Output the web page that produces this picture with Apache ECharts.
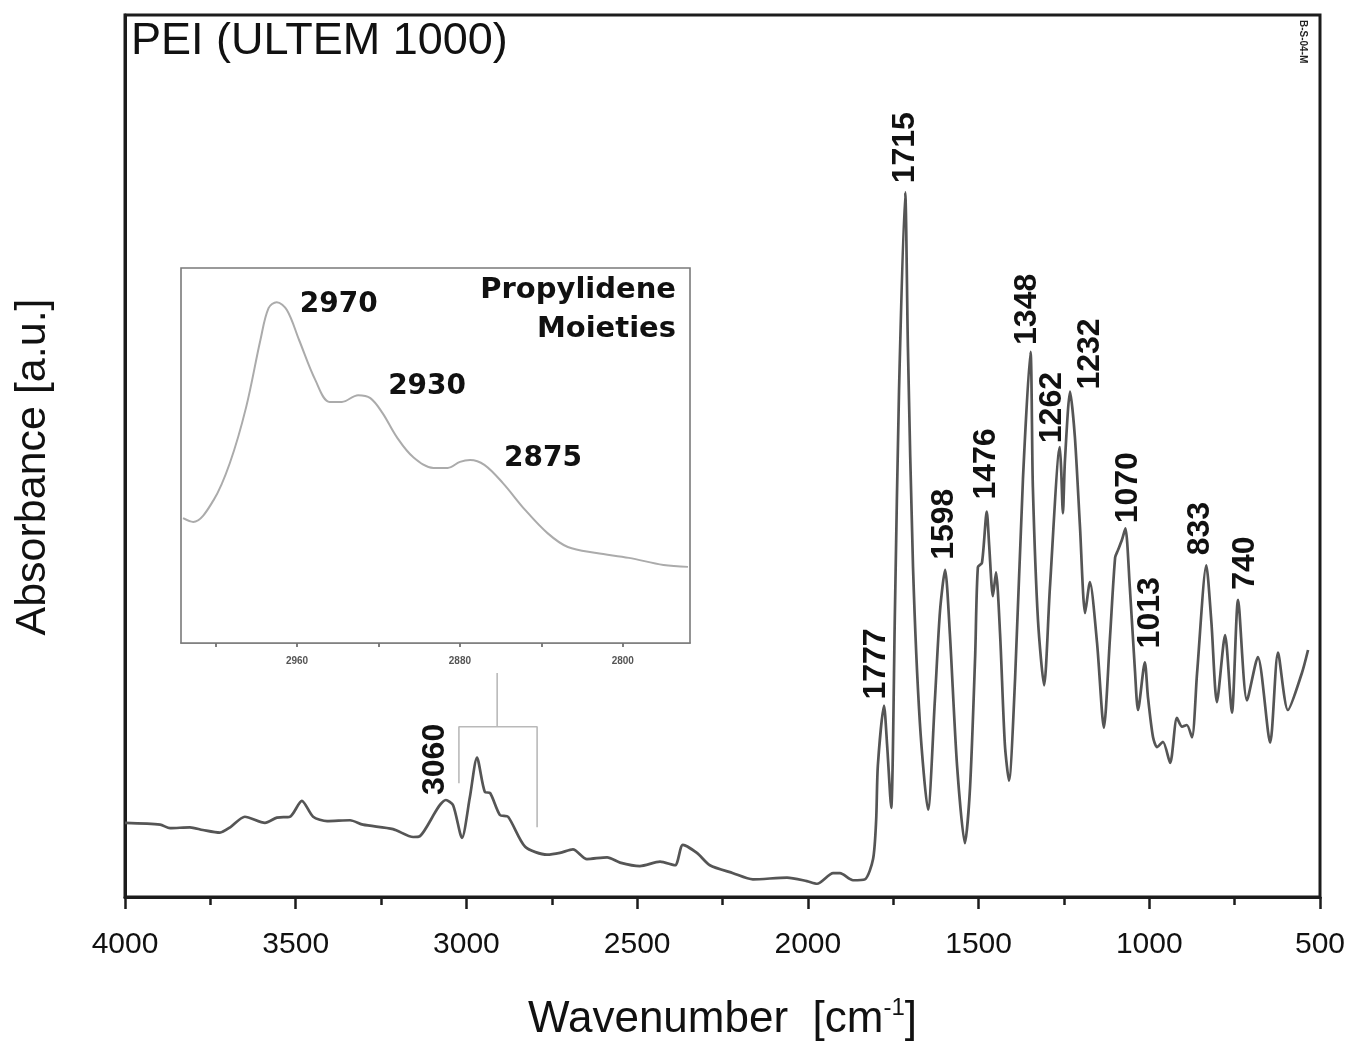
<!DOCTYPE html>
<html>
<head>
<meta charset="utf-8">
<script src="https://cdn.jsdelivr.net/npm/echarts@6/dist/echarts.min.js"></script>
<style>
  html, body { margin: 0; padding: 0; background: #fff; }
  #chart { width: 1356px; height: 1046px; }
</style>
</head>
<body>
<div id="chart"></div>
<script>
// FTIR absorbance spectrum of PEI (ULTEM 1000), 4000-500 cm-1
const wavenumber = [
  4000, 3897, 3868, 3810, 3772, 3722, 3692, 3649, 3590, 3555, 3517, 3482, 3449, 3408, 3341, 3303,
  3215, 3156, 3136, 3060, 3039, 3013, 2990, 2969, 2946, 2931, 2902, 2878, 2828, 2764, 2726, 2688,
  2647, 2588, 2550, 2492, 2433, 2389, 2366, 2325, 2287, 2219, 2161, 2061, 2003, 1973, 1926, 1906,
  1868, 1833, 1809, 1800, 1795, 1777, 1768, 1756, 1745, 1733, 1715, 1707, 1692, 1672, 1648, 1628,
  1613, 1598, 1584, 1563, 1540, 1525, 1510, 1502, 1490, 1476, 1469, 1458, 1449, 1437, 1423, 1411,
  1393, 1370, 1348, 1341, 1326, 1308, 1291, 1262, 1258, 1253, 1247, 1232, 1218, 1203, 1188, 1174,
  1153, 1133, 1115, 1100, 1092, 1080, 1070, 1057, 1042, 1033, 1013, 1004, 989, 977, 960, 939,
  919, 904, 890, 875, 860, 833, 818, 802, 778, 758, 740, 714, 682, 646, 623, 594, 553, 535
];
const absorbance = [
  0.084, 0.082, 0.078, 0.079, 0.076, 0.073, 0.079, 0.091, 0.084, 0.090, 0.091, 0.109, 0.091, 0.086, 0.087, 0.082,
  0.077, 0.068, 0.069, 0.110, 0.104, 0.067, 0.113, 0.158, 0.119, 0.118, 0.093, 0.091, 0.057, 0.048, 0.050, 0.054,
  0.043, 0.045, 0.039, 0.035, 0.040, 0.036, 0.059, 0.050, 0.036, 0.027, 0.020, 0.022, 0.018, 0.015, 0.027, 0.027,
  0.019, 0.020, 0.043, 0.087, 0.149, 0.217, 0.173, 0.101, 0.324, 0.574, 0.799, 0.624, 0.374, 0.198, 0.099, 0.223,
  0.324, 0.371, 0.298, 0.149, 0.061, 0.124, 0.273, 0.374, 0.379, 0.437, 0.399, 0.341, 0.368, 0.298, 0.173, 0.132,
  0.248, 0.474, 0.618, 0.465, 0.314, 0.240, 0.351, 0.510, 0.484, 0.435, 0.495, 0.573, 0.522, 0.420, 0.322, 0.357,
  0.288, 0.192, 0.295, 0.385, 0.393, 0.405, 0.418, 0.351, 0.257, 0.212, 0.266, 0.227, 0.181, 0.170, 0.176, 0.152,
  0.203, 0.193, 0.195, 0.181, 0.254, 0.376, 0.311, 0.221, 0.297, 0.209, 0.337, 0.223, 0.272, 0.175, 0.277, 0.212, 0.254, 0.280
];

// C-H stretching region, shown magnified in the inset
const insetWavenumber = [
  3016, 3011, 3001, 2993, 2985, 2978, 2974, 2970, 2965, 2959, 2951, 2944, 2938, 2930, 2924, 2918,
  2911, 2903, 2893, 2886, 2880, 2875, 2868, 2859, 2848, 2837, 2827, 2813, 2797, 2780, 2768
];
const insetAbsorbance = [
  0.333, 0.323, 0.381, 0.480, 0.629, 0.808, 0.893, 0.909, 0.888, 0.808, 0.701, 0.643, 0.643, 0.661, 0.653, 0.613,
  0.549, 0.496, 0.467, 0.467, 0.483, 0.488, 0.475, 0.427, 0.355, 0.293, 0.256, 0.240, 0.227, 0.208, 0.203
];

// assigned bands
const peakWavenumbers = [3060, 1777, 1715, 1598, 1476, 1348, 1262, 1232, 1070, 1013, 833, 740];
const insetPeakWavenumbers = [2970, 2930, 2875];

// tick labels
const mainTicks = [4000, 3500, 3000, 2500, 2000, 1500, 1000, 500];
const insetTickLabels = [2960, 2880, 2800];
const insetTicks = [3000, 2960, 2920, 2880, 2840, 2800];

// label placement (pixel offsets from each band maximum)
const peakLabelShift = {
  3060: [-11, 5], 1777: [-8, 6], 1715: [0, 9], 1598: [-1, 10], 1476: [-1, 12], 1348: [-3, 7],
  1262: [-8, 4], 1232: [20, 2], 1070: [3, 5], 1013: [5, 14], 833: [-6, 10], 740: [7, 10]
};
const insetLabelShift = { 2970: [23, 3], 2930: [30, -8], 2875: [34, -1] };

const zip = (xs, ys) => xs.map((x, i) => [x, ys[i]]);
const valueAt = (xs, ys, w) => ys[xs.indexOf(w)];

const FONT = '"Liberation Sans", Arial, sans-serif';
const AXIS_COLOR = '#1c1c1c';
const TEXT_COLOR = '#111111';

const peakData = peakWavenumbers.map(w => ({
  value: [w, valueAt(wavenumber, absorbance, w)],
  label: {
    show: true,
    formatter: String(w),
    position: [peakLabelShift[w][0], -peakLabelShift[w][1]],
    rotate: 90,
    align: 'left',
    verticalAlign: 'middle',
    fontSize: 32,
    fontWeight: 'bold',
    fontFamily: FONT,
    color: TEXT_COLOR
  }
}));

const insetPeakData = insetPeakWavenumbers.map(w => ({
  value: [w, valueAt(insetWavenumber, insetAbsorbance, w)],
  label: {
    show: true,
    formatter: String(w),
    position: insetLabelShift[w],
    align: 'left',
    verticalAlign: 'middle',
    fontSize: 28,
    fontWeight: 'bold',
    fontFamily: '"DejaVu Sans", sans-serif',
    color: TEXT_COLOR
  }
}));

const chart = echarts.init(document.getElementById('chart'), null, { renderer: 'canvas' });

chart.setOption({
  backgroundColor: '#ffffff',
  animation: false,
  grid: [
    {
      left: 125, right: 36, top: 15, bottom: 149,
      show: true, borderColor: AXIS_COLOR, borderWidth: 3, backgroundColor: 'transparent',
      outerBoundsMode: 'none'
    },
    {
      left: 181, top: 268, width: 509, height: 375,
      show: true, borderColor: '#7a7a7a', borderWidth: 1.6, backgroundColor: '#ffffff',
      outerBoundsMode: 'none', z: 5
    }
  ],
  xAxis: [
    {
      type: 'value', gridIndex: 0, min: 500, max: 4000, interval: 500, inverse: true,
      name: '{t|Wavenumber  [cm}{s|-1}{t|]}',
      nameLocation: 'middle', nameGap: 99,
      nameTextStyle: {
        rich: {
          t: { fontSize: 44, fontFamily: FONT, color: TEXT_COLOR },
          s: { fontSize: 24, fontFamily: FONT, color: TEXT_COLOR, padding: [0, 0, 24, 0] }
        }
      },
      axisLine: { show: true, onZero: false, lineStyle: { color: AXIS_COLOR, width: 3 } },
      axisTick: { show: true, inside: false, length: 12, lineStyle: { color: AXIS_COLOR, width: 2.5 } },
      minorTick: { show: true, splitNumber: 2, length: 8, lineStyle: { color: AXIS_COLOR, width: 2.5 } },
      axisLabel: {
        margin: 33, fontSize: 30, fontFamily: FONT, color: TEXT_COLOR,
        customValues: mainTicks, formatter: v => String(v)
      },
      splitLine: { show: false }
    },
    {
      type: 'value', gridIndex: 1, min: 2767, max: 3017, inverse: true,
      axisLine: { show: true, onZero: false, lineStyle: { color: '#7a7a7a', width: 1.6 } },
      axisTick: { show: true, inside: false, length: 4, customValues: insetTicks, lineStyle: { color: '#555', width: 1.5 } },
      axisLabel: {
        margin: 13, fontSize: 10, fontWeight: 'bold', fontFamily: FONT, color: '#555',
        customValues: insetTickLabels, formatter: v => String(v)
      },
      splitLine: { show: false }
    }
  ],
  yAxis: [
    {
      type: 'value', gridIndex: 0, min: 0, max: 1,
      name: 'Absorbance [a.u.]',
      nameLocation: 'middle', nameGap: 70, nameRotate: 90,
      nameTextStyle: { fontSize: 43, fontFamily: FONT, color: TEXT_COLOR, padding: [0, 22, 0, 0] },
      axisLine: { show: true, lineStyle: { color: AXIS_COLOR, width: 3 } },
      axisTick: { show: false },
      axisLabel: { show: false },
      splitLine: { show: false }
    },
    {
      type: 'value', gridIndex: 1, min: 0, max: 1,
      axisLine: { show: false }, axisTick: { show: false }, axisLabel: { show: false },
      splitLine: { show: false }
    }
  ],
  series: [
    {
      name: 'PEI',
      type: 'line', xAxisIndex: 0, yAxisIndex: 0,
      data: zip(wavenumber, absorbance),
      showSymbol: false, smooth: 0.25,
      lineStyle: { color: '#555555', width: 2.7 },
      z: 3
    },
    {
      name: 'band labels',
      type: 'scatter', xAxisIndex: 0, yAxisIndex: 0,
      symbolSize: 0, itemStyle: { opacity: 1 }, data: peakData, z: 4, silent: true
    },
    {
      // zoom marker: region 3020-2795 cm-1 that the inset enlarges
      name: 'zoom bracket',
      type: 'line', xAxisIndex: 0, yAxisIndex: 0,
      data: [[3022, 0.129], [3022, 0.193], [2793, 0.193], [2793, 0.079]],
      showSymbol: false, lineStyle: { color: '#b9b9b9', width: 1.6 }, z: 2, silent: true
    },
    {
      name: 'zoom connector',
      type: 'line', xAxisIndex: 0, yAxisIndex: 0,
      data: [[2910, 0.254], [2910, 0.193]],
      showSymbol: false, lineStyle: { color: '#b9b9b9', width: 1.6 }, z: 2, silent: true
    },
    {
      name: 'PEI C-H',
      type: 'line', xAxisIndex: 1, yAxisIndex: 1,
      data: zip(insetWavenumber, insetAbsorbance),
      showSymbol: false, smooth: 0.35,
      lineStyle: { color: '#ababab', width: 2 },
      z: 6
    },
    {
      name: 'C-H labels',
      type: 'scatter', xAxisIndex: 1, yAxisIndex: 1,
      symbolSize: 0, itemStyle: { opacity: 1 }, data: insetPeakData, z: 7, silent: true
    }
  ],
  graphic: [
    {
      type: 'text', left: 131, top: 19, z: 10,
      style: { text: 'PEI (ULTEM 1000)', font: '45px "Liberation Sans", Arial, sans-serif', fill: TEXT_COLOR }
    },
    {
      type: 'text', x: 676, y: 310, z: 10,
      style: {
        text: 'Propylidene\nMoieties', font: 'bold 29px "DejaVu Sans", sans-serif',
        fill: TEXT_COLOR, align: 'right', verticalAlign: 'middle', lineHeight: 39
      }
    },
    {
      type: 'text', x: 1303, y: 20, rotation: -Math.PI / 2, z: 10,
      style: { text: 'B-S-04-M', font: 'bold 10px "Liberation Sans", Arial, sans-serif', fill: '#222', align: 'left', verticalAlign: 'middle' }
    }
  ]
});
</script>
</body>
</html>
